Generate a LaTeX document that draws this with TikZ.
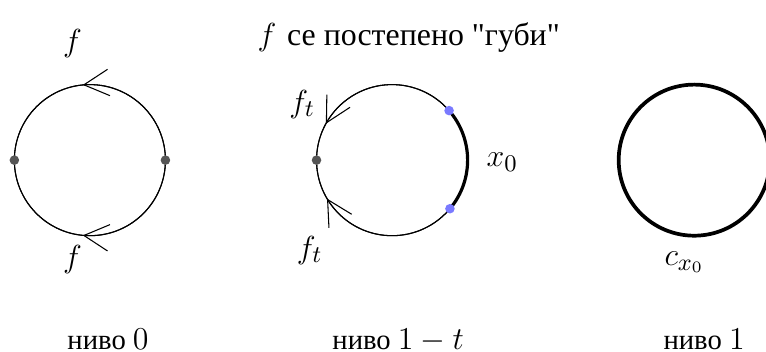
\documentclass[tikz,border=0pt]{standalone}
\usepackage{fontspec}
\newfontfamily\cyr{Liberation Serif}
\usetikzlibrary{arrows.meta, decorations.markings}
\definecolor{mydot}  {RGB}{85, 85, 85}
\definecolor{myblue} {RGB}{122, 122, 255}
\tikzset{
    barb/.style={decoration={markings, mark=at position #1 with {\arrow{Straight Barb[length=3.3mm, width=3.5mm]}}}, postaction={decorate}},
    rbarb/.style={decoration={markings, mark=at position #1 with {\arrowreversed{Straight Barb[length=3.3mm, width=3.5mm]}}}, postaction={decorate}},
    pt/.style={circle, fill=mydot, inner sep=0pt, minimum size=3.6pt},
    bpt/.style={circle, fill=myblue, inner sep=0pt, minimum size=3.6pt},
    every node/.style={font=\fontsize{12.5}{15}\selectfont},
}
\begin{document}
\begin{tikzpicture}
        \useasboundingbox (-1.19,-2.53) rectangle (8.95,2.12);
        \coordinate (c0) at (0,0);
        \coordinate (c1) at (4,0);
        \coordinate (c2) at (8,0);
        % niveau 0
        \draw[barb=0.265] (c0) circle (1);
        \draw[rbarb=0.735] (c0) circle (1);
        \node[pt] (l0) at ([shift={(180:1)}]c0) {};
        \node[pt] (r0) at ([shift={(0:1)}]c0) {};
        \node (ftop) at (-0.23,1.54) {$f$};
        \node (fbot) at (-0.23,-1.32) {$f$};
        % niveau 1-t
        \draw[barb=0.42] (c1) circle (1);
        \draw[rbarb=0.585] (c1) circle (1);
        \draw[line width=1.2pt] ([shift={(-40:1)}]c1) arc[start angle=-40, end angle=41, radius=1];
        \node[pt] (l1) at ([shift={(180:1)}]c1) {};
        \node[bpt] (a1) at ([shift={(41:1)}]c1) {};
        \node[bpt] (b1) at ([shift={(-40:1)}]c1) {};
        \node (fttop) at (2.81,0.74) {$f_t$};
        \node (ftbot) at (2.91,-1.19) {$f_t$};
        \node (x0) at (5.46,-0.03) {$x_0$};
        % niveau 1
        \draw[line width=1.4pt] (c2) circle (1);
        \node (cx0) at (7.87,-1.35) {$c_{x_0}$};
        % labels
        \node[anchor=base] (title) at (4.22,1.52) {$f$ {\cyr\fontsize{12}{14}\selectfont се постепено "губи"}};
        \foreach \x/\lab/\name in {0.24/0/n0, 4.08/1-t/n1, 8.13/1/n2}
        {
            \node[anchor=base] (\name) at (\x,-2.5) {{\cyr\fontsize{10.8}{13}\selectfont ниво }$\lab$};
        }
    \end{tikzpicture}
\end{document}
